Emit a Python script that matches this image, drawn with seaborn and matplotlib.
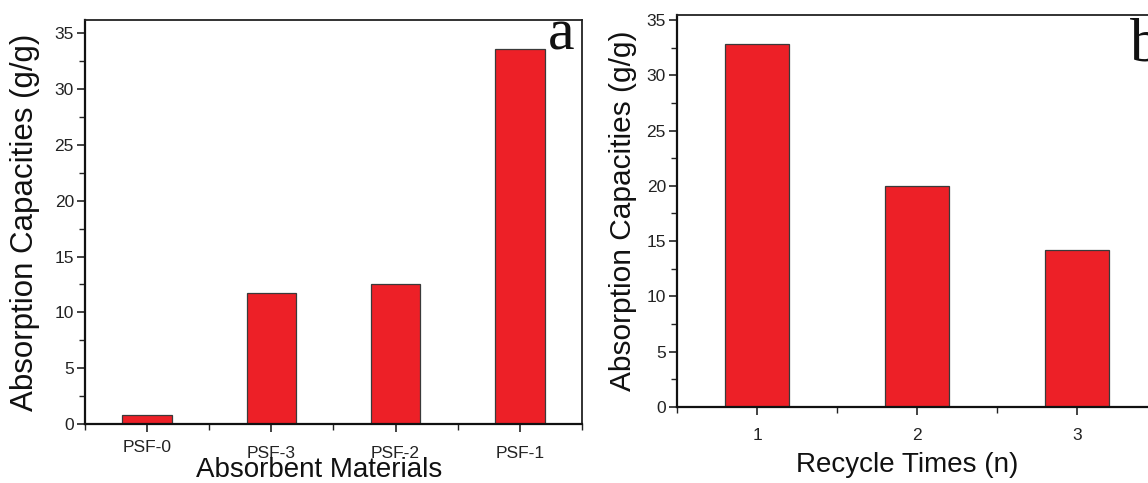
import matplotlib
matplotlib.use("Agg")
import matplotlib.pyplot as plt
import matplotlib.transforms as mtransforms
from matplotlib.ticker import MultipleLocator, FixedLocator
import seaborn as sns
import pandas as pd

# ---- data ----
materials = ["PSF-0", "PSF-3", "PSF-2", "PSF-1"]
capacity_a = [0.8, 11.7, 12.5, 33.6]
cycles = ["1", "2", "3"]
capacity_b = [32.8, 20.0, 14.2]

sns.set_theme(style="white")
plt.rcParams["font.family"] = ["Liberation Sans", "DejaVu Sans"]

RED = "#ED2027"
EDGE = "#3a3a3a"

fig = plt.figure(figsize=(11.48, 4.83), dpi=100)
ax1 = fig.add_axes([85/1148, (483-424)/483, 497/1148, 404/483])
ax2 = fig.add_axes([677/1148, (483-407)/483, 480/1148, 392/483])

df_a = pd.DataFrame({"mat": materials, "cap": capacity_a})
df_b = pd.DataFrame({"cyc": cycles, "cap": capacity_b})

sns.barplot(data=df_a, x="mat", y="cap", ax=ax1, color=RED, width=0.4,
            edgecolor=EDGE, linewidth=0.9, saturation=1)
sns.barplot(data=df_b, x="cyc", y="cap", ax=ax2, color=RED, width=0.4,
            edgecolor=EDGE, linewidth=0.9, saturation=1)

def style(ax, n, ytop):
    ax.set_xlim(-0.5, n - 0.5)
    ax.set_ylim(0, ytop)
    ax.yaxis.set_major_locator(MultipleLocator(5))
    ax.yaxis.set_minor_locator(MultipleLocator(2.5))
    ax.xaxis.set_minor_locator(FixedLocator([i - 0.5 for i in range(n + 1)]))
    ax.tick_params(axis="both", which="major", direction="out", length=6,
                   width=1.2, color="#222222", labelsize=12.5, labelcolor="#222222",
                   bottom=True, left=True)
    ax.tick_params(axis="both", which="minor", direction="out", length=4,
                   width=1.0, color="#222222", bottom=True, left=True)
    ax.tick_params(axis="y", which="major", pad=2)
    for s in ["left", "bottom"]:
        ax.spines[s].set_linewidth(1.6)
        ax.spines[s].set_color("#111111")
    for s in ["top", "right"]:
        ax.spines[s].set_linewidth(1.3)
        ax.spines[s].set_color("#222222")
    ax.grid(False)

style(ax1, 4, 36.2)
style(ax2, 3, 35.45)

ax1.set_ylabel("Absorption Capacities (g/g)", fontsize=22.5, color="#111111", labelpad=10)
ax1.set_xlabel("Absorbent Materials", fontsize=20, color="#111111")
ax1.xaxis.set_label_coords(0.472, -0.082)
ax1.tick_params(axis="x", which="major", pad=10)
# PSF-0 label sits a bit higher than the others
lbl0 = ax1.get_xticklabels()[0]
lbl0.set_transform(lbl0.get_transform() + mtransforms.ScaledTranslation(0, 6/100, fig.dpi_scale_trans))

ax2.set_ylabel("Absorption Capacities (g/g)", fontsize=21.5, color="#111111", labelpad=7)
ax2.set_xlabel("Recycle Times (n)", fontsize=20, color="#111111")
ax2.xaxis.set_label_coords(0.479, -0.115)
ax2.tick_params(axis="x", which="major", pad=9)

serif = ["Liberation Serif", "DejaVu Serif"]
ax1.text(0.984, 0.926, "a", transform=ax1.transAxes, ha="right", va="baseline",
         fontsize=43, family=serif, color="#111111")
ax2.text(0.944, 0.885, "b", transform=ax2.transAxes, ha="left", va="baseline",
         fontsize=44, family=serif, color="#111111")

fig.savefig("out.png", dpi=100)
